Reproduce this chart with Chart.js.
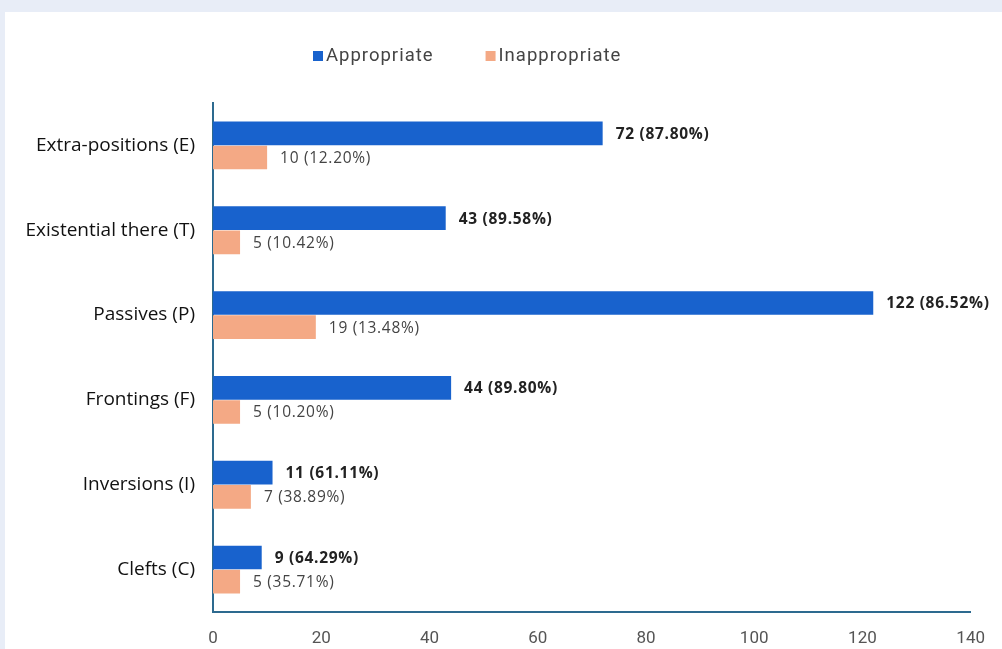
<!DOCTYPE html>
<html>
<head>
<meta charset="utf-8">
<script src="https://cdn.jsdelivr.net/npm/chart.js@4.4.0/dist/chart.umd.min.js"></script>
<style>
  html, body { margin: 0; padding: 0; background: #e8edf7; }
  #panel { position: absolute; left: 5px; top: 12px; width: 997px; height: 637px; background: #fff; }
  canvas { display: block; }
</style>
</head>
<body>
<div id="panel"><canvas id="myChart" width="997" height="637"></canvas></div>
<script>
const categories = ['Extra-positions (E)', 'Existential there (T)', 'Passives (P)', 'Frontings (F)', 'Inversions (I)', 'Clefts (C)']
const appropriate = [72, 43, 122, 44, 11, 9]
const inappropriate = [10, 5, 19, 5, 7, 5]
const appropriatePct = ['87.80%', '89.58%', '86.52%', '89.80%', '61.11%', '64.29%']
const inappropriatePct = ['12.20%', '10.42%', '13.48%', '10.20%', '38.89%', '35.71%']
const xTicks = [0, 20, 40, 60, 80, 100, 120, 140]

const BLUE = '#1862cd'
const ORANGE = '#f4a985'
const AXIS = '#2d6a8f'

// value labels at the end of each bar
const barLabels = {
  id: 'barLabels',
  afterDatasetsDraw(chart) {
    const ctx = chart.ctx
    ctx.save()
    ctx.textBaseline = 'middle'
    ctx.textAlign = 'left'
    ctx.letterSpacing = '0.7px'
    chart.data.datasets.forEach((ds, i) => {
      const meta = chart.getDatasetMeta(i)
      const pcts = i === 0 ? appropriatePct : inappropriatePct
      ctx.font = (i === 0 ? '700 ' : '') + '15.5px "Open Sans"'
      ctx.fillStyle = i === 0 ? '#222' : '#444'
      meta.data.forEach((bar, j) => {
        ctx.fillText(ds.data[j] + ' (' + pcts[j] + ')', bar.x + 13, bar.y + 1)
      })
    })
    ctx.restore()
  }
}

// legend drawn by hand so it sits where the original one does
const topLegend = {
  id: 'topLegend',
  afterDraw(chart) {
    const ctx = chart.ctx
    ctx.save()
    ctx.font = '18.5px Roboto'
    ctx.letterSpacing = '1px'
    ctx.textBaseline = 'middle'
    let x = 308
    const y = 44
    chart.data.datasets.forEach(ds => {
      ctx.fillStyle = ds.backgroundColor
      ctx.fillRect(x, y - 5, 10, 10)
      ctx.fillStyle = '#444'
      ctx.fillText(ds.label, x + 13, y)
      x += 13 + ctx.measureText(ds.label).width + 52
    })
    ctx.restore()
  }
}

new Chart(document.getElementById('myChart'), {
  type: 'bar',
  data: {
    labels: categories,
    datasets: [
      { label: 'Appropriate', data: appropriate, backgroundColor: BLUE, categoryPercentage: 0.57, barPercentage: 0.98 },
      { label: 'Inappropriate', data: inappropriate, backgroundColor: ORANGE, categoryPercentage: 0.57, barPercentage: 0.98 }
    ]
  },
  options: {
    indexAxis: 'y',
    responsive: false,
    animation: false,
    layout: { padding: { top: 91, right: 29, bottom: 0, left: 0 } },
    plugins: {
      legend: { display: false },
      tooltip: { enabled: false }
    },
    scales: {
      x: {
        min: 0,
        max: 140,
        afterBuildTicks: scale => { scale.ticks = xTicks.map(v => ({ value: v })) },
        afterFit: scale => { scale.height = 37 },
        grid: { display: false, drawTicks: false },
        border: { display: true, color: AXIS, width: 2 },
        ticks: { color: '#555', font: { family: 'Roboto', size: 17 }, padding: 17 }
      },
      y: {
        afterFit: scale => { scale.width = 208 },
        grid: { display: false, drawTicks: false },
        border: { display: true, color: AXIS, width: 2 },
        ticks: { color: '#111', font: { family: 'Open Sans', size: 19, weight: 500 }, padding: 18 }
      }
    }
  },
  plugins: [barLabels, topLegend]
})
</script>
</body>
</html>
